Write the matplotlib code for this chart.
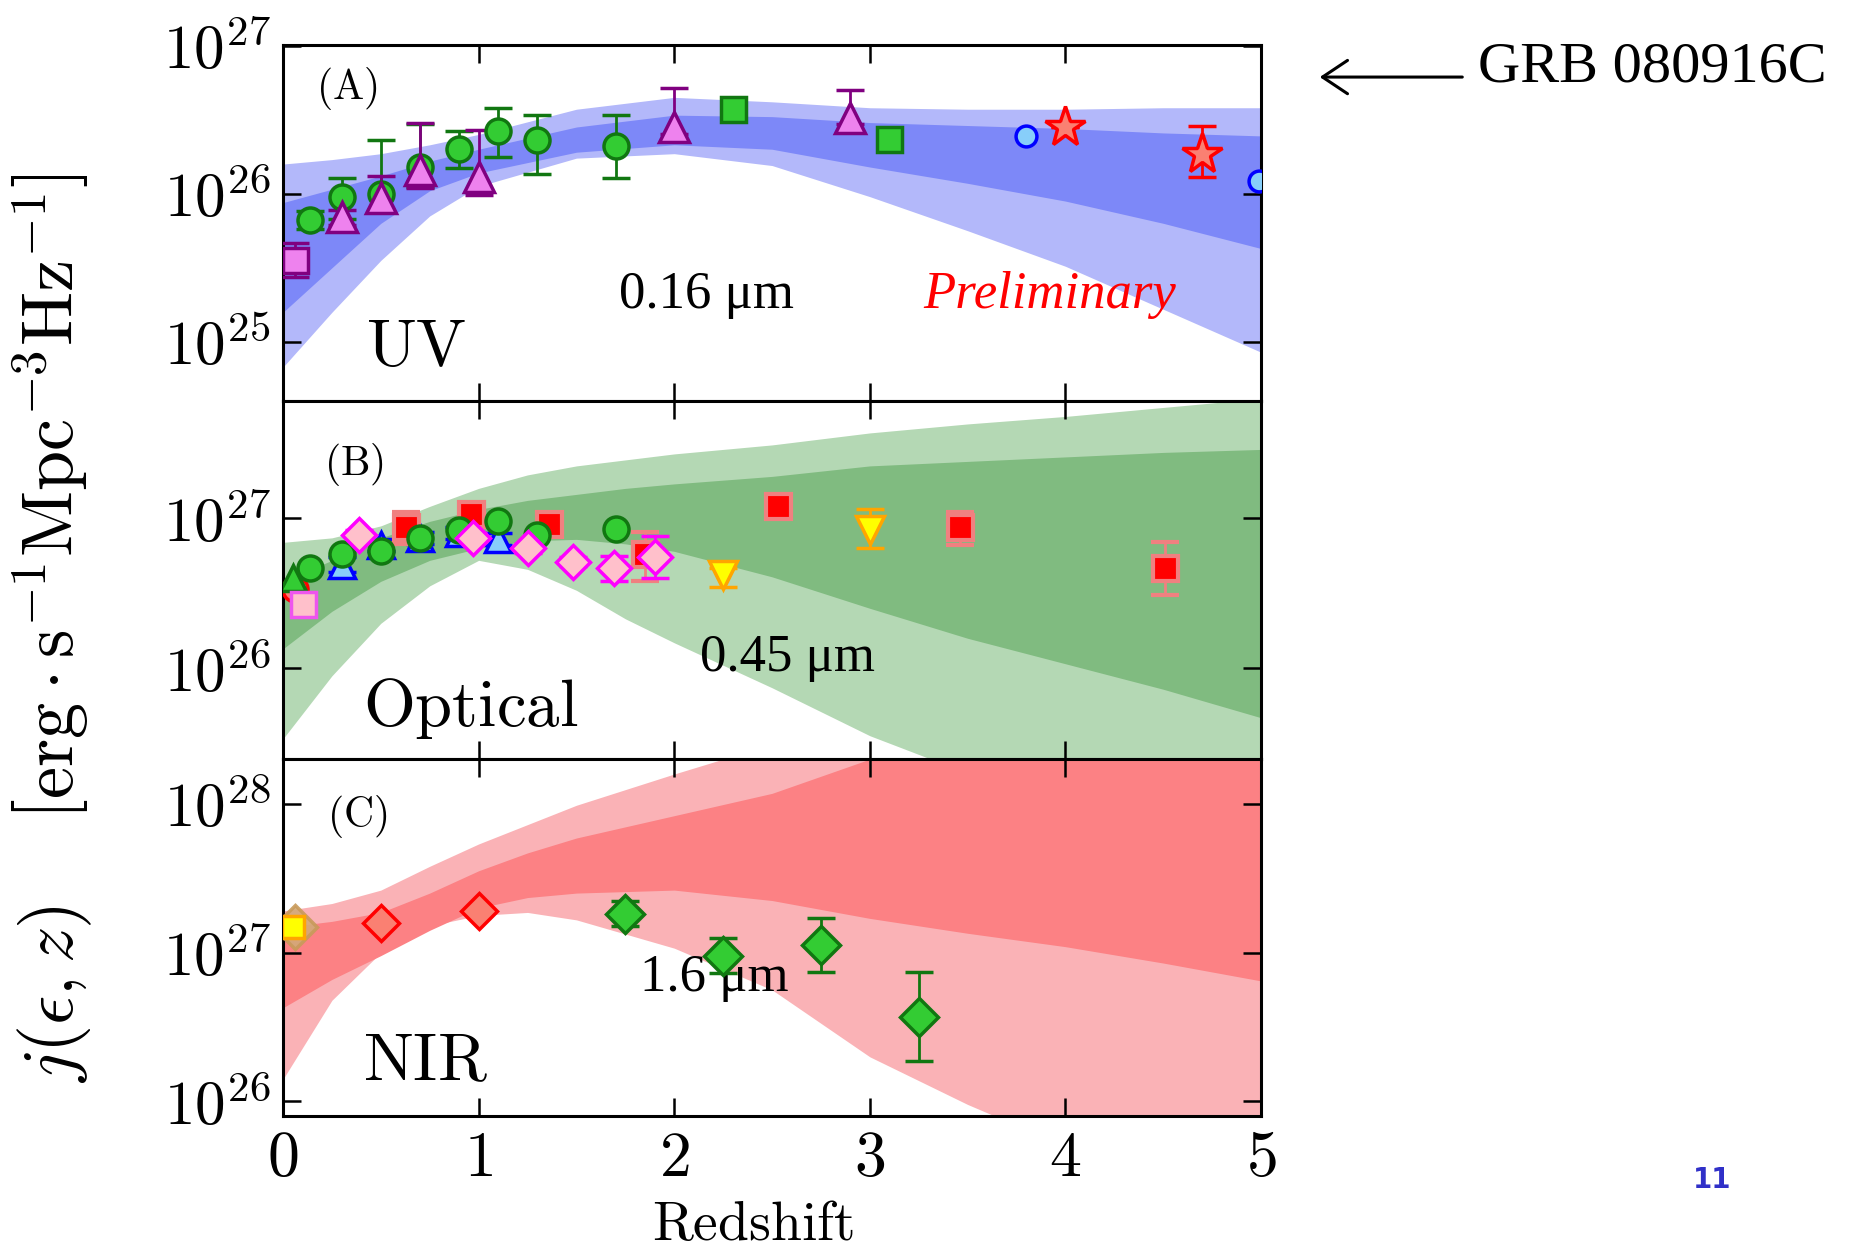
import numpy as np
import matplotlib
matplotlib.use('Agg')
import matplotlib.pyplot as plt
from matplotlib.ticker import FixedLocator, FuncFormatter, NullLocator

plt.rcParams['mathtext.fontset'] = 'cm'
plt.rcParams['font.family'] = ['DejaVu Serif']

# ---------------- Panel A (UV, 0.16 um) : log10 j ----------------
zA_band = [0, 0.25, 0.5, 0.75, 1.0, 1.5, 2.0, 2.5, 3.0, 3.5, 4.0, 4.5, 5.0]
A_outer_hi = [26.20, 26.23, 26.27, 26.33, 26.40, 26.57, 26.65, 26.62, 26.58, 26.57, 26.57, 26.58, 26.58]
A_inner_hi = [25.94, 26.03, 26.12, 26.22, 26.30, 26.45, 26.53, 26.52, 26.48, 26.46, 26.44, 26.41, 26.39]
A_inner_lo = [25.20, 25.50, 25.80, 26.02, 26.14, 26.28, 26.33, 26.30, 26.18, 26.07, 25.95, 25.80, 25.63]
A_outer_lo = [24.83, 25.20, 25.55, 25.85, 26.05, 26.24, 26.27, 26.19, 25.98, 25.75, 25.51, 25.22, 24.93]

A_circ_z = [0.14, 0.30, 0.50, 0.70, 0.90, 1.10, 1.30, 1.70]
A_circ_v = [25.82, 25.98, 26.00, 26.18, 26.30, 26.42, 26.36, 26.32]
A_circ_up = [0.06, 0.125, 0.36, 0.29, 0.12, 0.16, 0.17, 0.21]
A_circ_dn = [0.06, 0.15, 0.11, 0.135, 0.13, 0.17, 0.23, 0.215]

A_tri_z = [0.30, 0.50, 0.70, 1.00, 2.00, 2.90]
A_tri_v = [25.84, 25.97, 26.16, 26.11, 26.45, 26.51]
A_tri_up = [0.05, 0.15, 0.32, 0.32, 0.26, 0.19]
A_tri_dn = [0.05, 0.08, 0.12, 0.12, 0.05, 0.04]

A_sq_z = [0.06]
A_sq_v = [25.555]
A_sq_err = [0.115]

A_gsq_z = [2.30, 3.10]
A_gsq_v = [26.57, 26.37]

A_bc_z = [3.80, 4.99]
A_bc_v = [26.39, 26.085]
A_bc_err = [0.035, 0.035]

A_star_z = [4.00, 4.70]
A_star_v = [26.45, 26.27]
A_star_up = [0.0, 0.19]
A_star_dn = [0.0, 0.16]

# ---------------- Panel B (Optical, 0.45 um) ----------------
zB_band = [0, 0.25, 0.5, 0.75, 1.0, 1.25, 1.5, 1.75, 2.0, 2.5, 3.0, 3.5, 4.0, 4.5, 5.0]
B_outer_hi = [26.84, 26.87, 26.95, 27.08, 27.20, 27.29, 27.35, 27.39, 27.43, 27.49, 27.57, 27.63, 27.68, 27.74, 27.80]
B_inner_hi = [26.58, 26.72, 26.87, 26.98, 27.06, 27.12, 27.16, 27.20, 27.23, 27.28, 27.35, 27.38, 27.41, 27.44, 27.46]
B_inner_lo = [26.13, 26.38, 26.58, 26.72, 26.80, 26.85, 26.86, 26.83, 26.78, 26.61, 26.40, 26.20, 26.03, 25.86, 25.67]
B_outer_lo = [25.53, 25.95, 26.30, 26.55, 26.72, 26.66, 26.52, 26.33, 26.17, 25.87, 25.55, 25.30, 25.10, 24.95, 24.80]

B_circ_z = [0.14, 0.30, 0.50, 0.70, 0.90, 1.10, 1.30, 1.70]
B_circ_v = [26.67, 26.76, 26.78, 26.87, 26.92, 26.98, 26.89, 26.93]

B_btri_z = [0.30, 0.50, 0.70, 0.90, 1.10]
B_btri_v = [26.69, 26.82, 26.87, 26.90, 26.86]
B_btri_err = [0.05, 0.04, 0.04, 0.04, 0.04]

B_gtri_z = [0.05]
B_gtri_v = [26.60]
B_rcirc_z = [0.06]
B_rcirc_v = [26.53]
B_psq_z = [0.10]
B_psq_v = [26.43]

B_rsq_z = [0.63, 0.96, 1.36, 1.85, 2.53, 3.46, 4.51]
B_rsq_v = [26.94, 27.03, 26.96, 26.76, 27.08, 26.94, 26.67]
B_rsq_up = [0.10, 0.06, 0.04, 0.15, 0.05, 0.10, 0.17]
B_rsq_dn = [0.11, 0.06, 0.04, 0.18, 0.05, 0.12, 0.18]

B_dia_z = [0.39, 0.97, 1.25, 1.48, 1.69, 1.90]
B_dia_v = [26.89, 26.87, 26.80, 26.71, 26.67, 26.74]
B_dia_up = [0.03, 0.03, 0.03, 0.03, 0.08, 0.14]
B_dia_dn = [0.03, 0.03, 0.03, 0.03, 0.09, 0.14]

B_ytri_z = [2.25, 3.00]
B_ytri_v = [26.62, 26.92]
B_ytri_up = [0.05, 0.14]
B_ytri_dn = [0.08, 0.12]

# ---------------- Panel C (NIR, 1.6 um) ----------------
zC_band = [0, 0.25, 0.5, 0.75, 1.0, 1.25, 1.5, 2.0, 2.5, 3.0, 3.5, 4.0, 4.5, 5.0]
C_outer_hi = [27.28, 27.33, 27.42, 27.58, 27.73, 27.86, 27.99, 28.20, 28.40, 28.56, 28.68, 28.80, 28.90, 29.00]
C_inner_hi = [27.17, 27.21, 27.27, 27.40, 27.55, 27.67, 27.77, 27.92, 28.07, 28.30, 28.50, 28.65, 28.80, 28.90]
C_inner_lo = [26.63, 26.82, 26.98, 27.15, 27.30, 27.37, 27.40, 27.42, 27.35, 27.23, 27.13, 27.04, 26.93, 26.81]
C_outer_lo = [26.15, 26.68, 27.00, 27.18, 27.25, 27.27, 27.22, 27.03, 26.75, 26.30, 25.98, 25.70, 25.45, 25.20]

C_tan_z = [0.06]
C_tan_v = [27.17]
C_ysq_z = [0.05]
C_ysq_v = [27.17]
C_rdia_z = [0.50, 1.00]
C_rdia_v = [27.20, 27.28]
C_gdia_z = [1.75, 2.25, 2.75, 3.25]
C_gdia_v = [27.26, 26.98, 27.05, 26.57]
C_gdia_up = [0.09, 0.12, 0.18, 0.30]
C_gdia_dn = [0.08, 0.12, 0.18, 0.30]

x_ticks = [0, 1, 2, 3, 4, 5]
A_yticks = [25, 26, 27]
B_yticks = [26, 27]
C_yticks = [26, 27, 28]
A_ylim = (24.598, 27.004)
B_ylim = (25.394, 27.78)
C_ylim = (25.905, 28.30)

# ---------------- figure ----------------
fig = plt.figure(figsize=(18.51, 12.51), dpi=100)
L, W = 0.1529, 0.5284
axA = fig.add_axes([L, 0.6791, W, 0.9641 - 0.6791])
axB = fig.add_axes([L, 0.3932, W, 0.6791 - 0.3932])
axC = fig.add_axes([L, 0.1082, W, 0.3932 - 0.1082])

def P(v):
    return 10.0 ** np.asarray(v, dtype=float)

def errs(v, up, dn):
    v = np.asarray(v, float)
    return [P(v) - P(v - np.asarray(dn)), P(v + np.asarray(up)) - P(v)]

EB = dict(ls='none', elinewidth=2.0, capsize=10, capthick=2.0, mew=2.5, zorder=5)

def band(ax, z, olo, ohi, ilo, ihi, c_out, c_in):
    ax.fill_between(z, P(olo), P(ohi), color=c_out, lw=0, zorder=1)
    ax.fill_between(z, P(ilo), P(ihi), color=c_in, lw=0, zorder=2)

band(axA, zA_band, A_outer_lo, A_outer_hi, A_inner_lo, A_inner_hi, '#b3b8fa', '#7d88f8')
band(axB, zB_band, B_outer_lo, B_outer_hi, B_inner_lo, B_inner_hi, '#b4d8b4', '#80bb80')
band(axC, zC_band, C_outer_lo, C_outer_hi, C_inner_lo, C_inner_hi, '#fab2b6', '#fc8184')

# Panel A points
axA.errorbar(A_sq_z, P(A_sq_v), yerr=errs(A_sq_v, A_sq_err, A_sq_err), marker='s', ms=18,
             mfc='#ee82ee', mec='#800080', ecolor='#800080', **EB)
axA.errorbar(A_circ_z, P(A_circ_v), yerr=errs(A_circ_v, A_circ_up, A_circ_dn), marker='o', ms=18,
             mfc='#33cc33', mec='#117711', ecolor='#117711', **EB)
axA.errorbar(A_tri_z, P(A_tri_v), yerr=errs(A_tri_v, A_tri_up, A_tri_dn), marker='^', ms=21,
             mfc='#ee82ee', mec='#800080', ecolor='#800080', **EB)
axA.errorbar(A_gsq_z, P(A_gsq_v), marker='s', ms=18, mfc='#33cc33', mec='#117711', **EB)
axA.errorbar(A_bc_z, P(A_bc_v), yerr=errs(A_bc_v, A_bc_err, A_bc_err), marker='o', ms=15,
             mfc='#87cefa', mec='#0000ff', ecolor='#0000ff', **{**EB, 'capsize': 7})
axA.errorbar(A_star_z, P(A_star_v), yerr=errs(A_star_v, A_star_up, A_star_dn), marker='*', ms=30,
             mfc='#fa8072', mec='#ff0000', ecolor='#ff0000', **EB)

# Panel B points
axB.errorbar(B_rcirc_z, P(B_rcirc_v), marker='o', ms=18, mfc='#fa8072', mec='#ff0000', **EB)
axB.errorbar(B_gtri_z, P(B_gtri_v), marker='^', ms=19, mfc='#33cc33', mec='#117711', **EB)
axB.errorbar(B_psq_z, P(B_psq_v), marker='s', ms=18, mfc='#ffc0cb', mec='#ee55ee', **EB)
axB.errorbar(B_btri_z, P(B_btri_v), yerr=errs(B_btri_v, B_btri_err, B_btri_err), marker='^', ms=19,
             mfc='#87cefa', mec='#0000ff', ecolor='#0000ff', **EB)
axB.errorbar(B_rsq_z, P(B_rsq_v), yerr=errs(B_rsq_v, B_rsq_up, B_rsq_dn), marker='s', ms=18,
             mfc='#ff0000', mec='#f08080', ecolor='#f08080', **{**EB, 'mew': 3.0})
axB.errorbar(B_circ_z, P(B_circ_v), marker='o', ms=18, mfc='#33cc33', mec='#117711', **EB)
axB.errorbar(B_dia_z, P(B_dia_v), yerr=errs(B_dia_v, B_dia_up, B_dia_dn), marker='D', ms=17,
             mfc='#ffc0cb', mec='#ff00ff', ecolor='#ff00ff', **EB)
axB.errorbar(B_ytri_z, P(B_ytri_v), yerr=errs(B_ytri_v, B_ytri_up, B_ytri_dn), marker='v', ms=20,
             mfc='#ffff00', mec='#ffa500', ecolor='#ffa500', **EB)

# Panel C points
axC.errorbar(C_tan_z, P(C_tan_v), marker='D', ms=22, mfc='#d2aa78', mec='#c89a5a', alpha=0.9, **EB)
axC.errorbar(C_ysq_z, P(C_ysq_v), marker='s', ms=16, mfc='#ffff00', mec='#ffa500', **EB)
axC.errorbar(C_rdia_z, P(C_rdia_v), marker='D', ms=18, mfc='#fa8072', mec='#ff0000', **EB)
axC.errorbar(C_gdia_z, P(C_gdia_v), yerr=errs(C_gdia_v, C_gdia_up, C_gdia_dn), marker='D', ms=19,
             mfc='#33cc33', mec='#117711', ecolor='#117711', **EB)

fmt = FuncFormatter(lambda v, p: r'$10^{%d}$' % int(round(np.log10(v))))
for ax, yt, yl in [(axA, A_yticks, A_ylim), (axB, B_yticks, B_ylim), (axC, C_yticks, C_ylim)]:
    ax.set_yscale('log')
    ax.set_xlim(0, 5)
    ax.set_ylim(P(yl[0]), P(yl[1]))
    ax.yaxis.set_major_locator(FixedLocator(list(P(yt))))
    ax.yaxis.set_minor_locator(NullLocator())
    ax.yaxis.set_major_formatter(fmt)
    ax.xaxis.set_major_locator(FixedLocator(x_ticks))
    ax.tick_params(which='major', direction='in', top=True, right=True, length=13, width=1.8,
                   labelsize=44, pad=9)
    for s in ax.spines.values():
        s.set_linewidth(2.2)
    ax.set_axisbelow(False)

for ax in (axA, axB):
    ax.tick_params(labelbottom=False)
axC.xaxis.set_major_formatter(FuncFormatter(lambda v, p: r'$%d$' % int(v)))
axC.tick_params(axis='x', labelsize=46, pad=9)

# panel texts
axA.text(0.034, 0.877, r'$\mathrm{(A)}$', transform=axA.transAxes, fontsize=30, va='center', ha='left')
axB.text(0.042, 0.825, r'$\mathrm{(B)}$', transform=axB.transAxes, fontsize=30, va='center', ha='left')
axC.text(0.045, 0.838, r'$\mathrm{(C)}$', transform=axC.transAxes, fontsize=30, va='center', ha='left')
axA.text(0.085, 0.10, r'$\mathrm{UV}$', transform=axA.transAxes, fontsize=48, va='baseline', ha='left')
axB.text(0.082, 0.092, r'$\mathrm{Optical}$', transform=axB.transAxes, fontsize=48, va='baseline', ha='left')
axC.text(0.082, 0.10, r'$\mathrm{NIR}$', transform=axC.transAxes, fontsize=48, va='baseline', ha='left')

times = ['Liberation Serif', 'DejaVu Serif']
axA.text(0.344, 0.298, '0.16 μm', transform=axA.transAxes, fontsize=38, family=times, va='center', ha='left')
axA.text(0.655, 0.298, 'Preliminary', transform=axA.transAxes, fontsize=38, family=times,
         style='italic', color='#ff0000', va='center', ha='left')
axB.text(0.426, 0.284, '0.45 μm', transform=axB.transAxes, fontsize=38, family=times, va='center', ha='left')
axC.text(0.365, 0.387, '1.6 μm', transform=axC.transAxes, fontsize=38, family=times, va='center', ha='left', zorder=4)

# axis labels
fig.text(0.407, 0.0208, r'$\mathrm{Redshift}$', fontsize=40, ha='center', va='center')
fig.text(0.0286, 0.498,
         r'$j(\epsilon,z)\quad\;\left[\mathrm{erg}\cdot\mathrm{s}^{-1}\mathrm{Mpc}^{-3}\mathrm{Hz}^{-1}\right]$',
         fontsize=52, rotation=90, ha='center', va='center')

# GRB annotation
axA.annotate('', xy=(0.713, 0.9384), xycoords='figure fraction', xytext=(0.790, 0.9384),
             textcoords='figure fraction', annotation_clip=False,
             arrowprops=dict(arrowstyle='->,head_length=0.45,head_width=0.3', lw=2.2,
                             color='black', mutation_scale=40, shrinkA=0, shrinkB=0))
fig.text(0.7985, 0.9345, 'GRB 080916C', fontsize=42, family=times, ha='left', va='baseline')

fig.text(0.925, 0.0568, '11', fontsize=20, fontweight='bold', color='#3030c8', ha='center', va='center',
         family=['DejaVu Sans'])

fig.savefig('out.png', dpi=100)
